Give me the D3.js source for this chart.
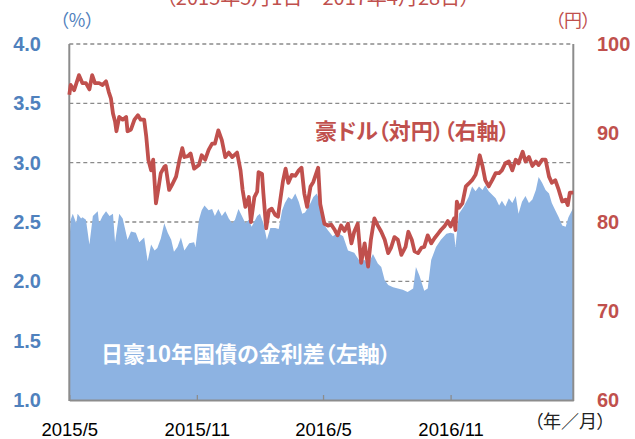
<!DOCTYPE html>
<html>
<head>
<meta charset="utf-8">
<script src="https://cdn.jsdelivr.net/npm/d3@7"></script>
<style>
  html, body { margin: 0; padding: 0; background: #fff; }
  svg { display: block; }
  .jp { font-family: "Noto Sans CJK JP", sans-serif; font-feature-settings: "palt"; }
  .num { font-family: "Liberation Sans", Arial, sans-serif; }
</style>
</head>
<body>
<div id="chart"></div>
<script>
// 日豪10年国債の金利差（左軸, %）: 2015/5/1 からの経過日数と値
const spreadDays = [0,2,5,10,12,17,19,24,29,34,41,43,48,53,58,63,66,72,77,84,89,96,101,108,113,118,123,127,132,137,142,147,151,156,161,166,173,180,182,187,191,195,201,206,210,215,220,225,230,235,239,244,249,254,259,263,271,275,280,285,290,297,302,307,311,316,321,326,331,336,340,348,352,357,362,366,373,380,387,395,402,407,411,419,426,431,438,445,450,455,460,467,474,481,488,496,500,505,512,517,522,529,536,544,550,555,557,562,569,576,581,586,591,596,600,605,610,615,620,624,629,634,639,644,648,653,658,663,668,673,677,682,687,692,696,701,706,711,716,720,727];
const spreadVals = [2.31,2.52,2.57,2.49,2.57,2.53,2.54,2.52,2.31,2.55,2.59,2.49,2.55,2.59,2.55,2.57,2.33,2.57,2.53,2.35,2.42,2.41,2.33,2.37,2.17,2.31,2.26,2.28,2.36,2.49,2.41,2.35,2.25,2.29,2.37,2.26,2.32,2.33,2.29,2.52,2.60,2.64,2.60,2.61,2.55,2.61,2.55,2.59,2.53,2.49,2.52,2.61,2.55,2.49,2.52,2.46,2.55,2.57,2.49,2.35,2.45,2.45,2.44,2.60,2.66,2.71,2.69,2.74,2.67,2.57,2.58,2.66,2.71,2.74,2.66,2.49,2.43,2.38,2.41,2.38,2.26,2.25,2.24,2.17,2.18,2.14,2.23,2.15,2.12,2.01,1.97,1.95,1.94,1.93,1.91,1.94,2.12,2.05,1.92,1.94,2.18,2.29,2.35,2.40,2.41,2.40,2.29,2.57,2.63,2.71,2.80,2.76,2.80,2.77,2.81,2.76,2.73,2.70,2.64,2.68,2.63,2.70,2.66,2.72,2.57,2.67,2.72,2.66,2.69,2.77,2.88,2.83,2.77,2.74,2.66,2.60,2.54,2.47,2.46,2.54,2.62];

// 豪ドル（対円）（右軸, 円）
const audDays = [0,2,7,14,19,24,29,33,37,43,48,53,57,60,63,66,68,72,77,82,84,89,94,99,103,108,111,114,118,121,125,129,132,137,139,144,149,154,159,163,166,171,175,180,187,191,196,201,206,210,215,220,225,230,235,242,247,250,254,259,262,267,271,273,278,280,284,288,292,297,301,304,308,312,316,321,326,331,335,339,343,348,352,359,362,368,373,378,383,387,392,397,402,407,411,416,421,426,431,435,440,445,450,455,460,464,469,474,479,485,489,494,498,503,508,512,517,522,527,532,536,541,546,550,555,557,559,562,567,572,576,581,586,589,592,596,600,605,610,615,620,624,629,634,639,644,648,654,658,663,668,673,677,682,687,692,696,701,706,711,716,719,722,727];
const audVals = [94.3,95.4,94.8,96.5,95.6,95.6,94.9,96.5,95.6,95.6,95.4,95.8,94.6,93.9,92.2,91.3,90.2,91.8,91.5,91.8,90.2,90.4,91.5,92.0,91.5,91.5,89.6,87.0,85.8,87.0,82.1,84.0,85.5,86.2,86.3,83.6,84.3,85.1,87.0,88.3,87.3,87.4,87.7,86.0,86.4,87.5,87.0,88.1,88.8,88.8,90.3,89.2,87.3,87.8,87.3,87.8,85.8,83.6,81.7,82.8,80.0,82.8,83.4,85.6,85.4,83.2,79.3,81.3,81.5,80.8,80.6,82.3,84.5,86.0,84.4,85.3,85.2,85.8,86.1,83.2,81.7,84.0,84.5,86.1,82.0,79.8,79.6,79.7,79.1,78.5,79.6,79.0,79.8,77.6,78.9,79.8,75.4,77.6,75.0,78.0,80.4,79.6,78.9,78.0,76.5,77.1,78.3,78.0,76.3,77.2,78.9,78.0,76.7,76.5,77.1,77.2,78.5,77.6,78.2,78.7,79.1,79.5,80.1,79.5,80.4,79.1,82.3,81.6,82.1,84.0,84.3,84.7,85.3,86.2,87.5,86.3,84.7,84.0,84.7,85.5,85.5,85.8,86.6,86.8,85.8,87.0,86.6,87.9,86.8,87.3,86.3,86.8,86.4,87.0,87.0,85.1,84.4,84.7,83.6,82.3,82.5,81.9,83.3,83.3];

const leftTicks = [1.0, 1.5, 2.0, 2.5, 3.0, 3.5, 4.0];
const rightTicks = [60, 70, 80, 90, 100];
const xTickLabels = ["2015/5", "2015/11", "2016/5", "2016/11"];

const width = 635, height = 439;
const blue = "#4f81bd", red = "#c0504d";
const start = new Date(2015, 4, 1);
const toDate = d => d3.timeDay.offset(start, d);
const parseTick = d3.timeParse("%Y/%m");

const svg = d3.select("#chart").append("svg")
  .attr("width", width)
  .attr("height", height);

const x = d3.scaleTime().domain([start, toDate(727)]).range([69.3, 573.3]);
const yL = d3.scaleLinear().domain([1, 4]).range([400, 44]);
const yR = d3.scaleLinear().domain([60, 100]).range([400, 44]);

// 目盛り線（破線）
svg.selectAll("line.grid")
  .data(leftTicks.slice(1))
  .enter().append("line")
  .attr("class", "grid")
  .attr("x1", x.range()[0]).attr("x2", x.range()[1])
  .attr("y1", d => yL(d)).attr("y2", d => yL(d))
  .attr("stroke", "#8a8a8a")
  .attr("stroke-width", 1.3)
  .attr("stroke-dasharray", "4,3");

// 金利差の面
const spread = spreadDays.map((d, i) => ({date: toDate(d), v: spreadVals[i]}));
svg.append("path")
  .datum(spread)
  .attr("fill", "#8db3e2")
  .attr("d", d3.area().x(d => x(d.date)).y0(yL(1)).y1(d => yL(d.v)));

// 枠線
const frame = svg.append("g").attr("stroke", "#8c8c8c").attr("stroke-width", 2).attr("fill", "none");
frame.append("line").attr("x1", x.range()[0]).attr("x2", x.range()[0]).attr("y1", 44).attr("y2", 401);
frame.append("line").attr("x1", x.range()[1]).attr("x2", x.range()[1]).attr("y1", 44).attr("y2", 401);

// 豪ドル円のライン
const aud = audDays.map((d, i) => ({date: toDate(d), v: audVals[i]}));
svg.append("path")
  .datum(aud)
  .attr("fill", "none")
  .attr("stroke", red)
  .attr("stroke-width", 3.8)
  .attr("stroke-linejoin", "round")
  .attr("d", d3.line().x(d => x(d.date)).y(d => yR(d.v)));

// 横軸
const xAxis = svg.append("g")
  .attr("transform", `translate(0,${yL(1)})`)
  .call(d3.axisBottom(x)
    .tickValues(xTickLabels.map(parseTick))
    .tickSizeInner(-5).tickSizeOuter(0)
    .tickFormat((d, i) => xTickLabels[i]));
xAxis.select(".domain").attr("stroke", "#8c8c8c").attr("stroke-width", 2);
xAxis.selectAll(".tick line").attr("stroke", "#8c8c8c").attr("stroke-width", 1.3);
xAxis.selectAll(".tick text")
  .attr("class", "num")
  .attr("y", 35.5).attr("dy", null)
  .attr("fill", "#000")
  .style("font-size", "18.5px");

// 左軸
const lAxis = svg.append("g")
  .attr("transform", "translate(41,0)")
  .call(d3.axisLeft(yL).tickValues(leftTicks).tickSize(0).tickPadding(0).tickFormat(d3.format(".1f")));
lAxis.select(".domain").remove();
lAxis.selectAll("text")
  .attr("class", "num")
  .attr("fill", blue)
  .style("font-size", "20px").style("font-weight", "bold");

// 右軸
const rAxis = svg.append("g")
  .attr("transform", "translate(597,0)")
  .call(d3.axisRight(yR).tickValues(rightTicks).tickSize(0).tickPadding(0));
rAxis.select(".domain").remove();
rAxis.selectAll("text")
  .attr("class", "num")
  .attr("fill", red)
  .style("font-size", "20px").style("font-weight", "bold");

// 単位・タイトル
svg.append("text").attr("class", "jp")
  .attr("x", 318).attr("y", 5).attr("text-anchor", "middle")
  .attr("fill", red).style("font-size", "20px")
  .text("（2015年5月1日～2017年4月28日）");
svg.append("text").attr("class", "jp")
  .attr("x", 77).attr("y", 27).attr("text-anchor", "middle")
  .attr("fill", blue).style("font-size", "18px")
  .text("（%）");
svg.append("text").attr("class", "jp")
  .attr("x", 573).attr("y", 27).attr("text-anchor", "middle")
  .attr("fill", red).style("font-size", "18px")
  .text("（円）");
svg.append("text").attr("class", "jp")
  .attr("x", 570).attr("y", 428).attr("text-anchor", "middle")
  .attr("fill", "#222").style("font-size", "18px")
  .text("（年／月）");

// 系列ラベル
svg.append("text").attr("class", "jp")
  .attr("x", 315).attr("y", 139)
  .attr("fill", red).style("font-size", "22px").style("font-weight", "bold")
  .text("豪ドル（対円）（右軸）");
svg.append("text").attr("class", "jp")
  .attr("x", 101).attr("y", 362)
  .attr("fill", "#fff").style("font-size", "22px").style("font-weight", "bold")
  .text("日豪10年国債の金利差（左軸）");
</script>
</body>
</html>
